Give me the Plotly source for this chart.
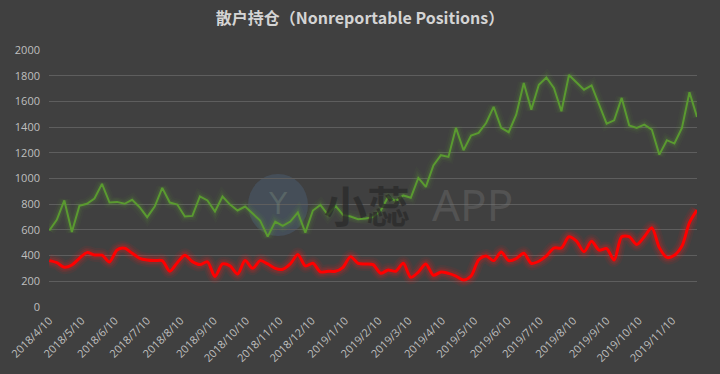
import pandas as pd
import plotly.graph_objects as go

start_date = "2018-04-10"
n_weeks = 87
dates = pd.date_range(start_date, periods=n_weeks, freq="7D")

green_vals = [595, 678, 829, 584, 787, 803, 844, 958, 813, 818,
              803, 834, 777, 699, 782, 927, 813, 797, 704, 709,
              860, 829, 743, 860, 797, 751, 782, 725, 673, 548,
              665, 631, 665, 735, 579, 751, 795, 717, 787, 717,
              704, 683, 688, 699, 750, 858, 824, 868, 850, 1005,
              935, 1101, 1181, 1168, 1394, 1220, 1334, 1355, 1432, 1557,
              1394, 1360, 1497, 1743, 1536, 1730, 1786, 1704, 1523, 1805,
              1748, 1691, 1725, 1575, 1427, 1453, 1627, 1412, 1394, 1419,
              1381, 1186, 1298, 1272, 1394, 1671, 1479]

red_vals = [361, 345, 309, 327, 379, 423, 405, 403, 351, 444,
            457, 418, 379, 366, 361, 361, 278, 345, 403, 353,
            330, 351, 238, 335, 320, 257, 361, 301, 361, 335,
            301, 294, 335, 408, 320, 340, 273, 278, 278, 309,
            392, 340, 335, 330, 262, 288, 278, 340, 231, 272,
            335, 247, 272, 262, 241, 210, 241, 366, 397, 361,
            428, 361, 376, 418, 340, 356, 398, 459, 459, 547,
            513, 430, 511, 443, 454, 366, 547, 547, 487, 547,
            617, 462, 386, 402, 474, 656, 754]

tick_dates = pd.date_range("2018-04-01", "2019-11-01", freq="MS") + pd.Timedelta(days=9)
tick_text = [f"{d.year}/{d.month}/{d.day}" for d in tick_dates]

y_ticks = list(range(0, 2001, 200))

BG = "#404040"
GREEN = "#5a9a30"
RED = "#ff0000"

fig = go.Figure()

# glow layers
for w, a in [(12, 0.05), (8, 0.08), (5, 0.12)]:
    fig.add_trace(go.Scatter(x=dates, y=green_vals, mode="lines",
                             line=dict(color=f"rgba(100,160,55,{a})", width=w),
                             hoverinfo="skip", showlegend=False))
    fig.add_trace(go.Scatter(x=dates, y=red_vals, mode="lines",
                             line=dict(color=f"rgba(255,30,30,{a + 0.02})", width=w + 2,
                                       shape="spline", smoothing=0.8),
                             hoverinfo="skip", showlegend=False))

fig.add_trace(go.Scatter(x=dates, y=green_vals, mode="lines",
                         line=dict(color=GREEN, width=2),
                         name="green", showlegend=False))
fig.add_trace(go.Scatter(x=dates, y=red_vals, mode="lines",
                         line=dict(color=RED, width=3, shape="spline", smoothing=0.8),
                         name="red", showlegend=False))

# watermark
fig.add_shape(type="circle", xref="paper", yref="paper",
              x0=(248 - 49) / 648, x1=(308 - 49) / 648,
              y0=(307 - 236) / 257, y1=(307 - 174) / 257,
              fillcolor="rgba(80,110,140,0.32)", line=dict(width=0), layer="below")
fig.add_annotation(text="Y", xref="paper", yref="paper",
                   x=(278 - 49) / 648, y=(307 - 203) / 257, showarrow=False,
                   font=dict(size=30, color="rgba(140,160,140,0.28)", family="DejaVu Sans"))
fig.add_annotation(text="<b>小蕊</b>", xref="paper", yref="paper",
                   x=(367 - 49) / 648, y=(307 - 204) / 257, showarrow=False,
                   font=dict(size=43, color="rgba(42,42,42,0.75)", family="Noto Sans CJK SC"))
fig.add_annotation(text="APP", xref="paper", yref="paper",
                   x=(472 - 49) / 648, y=(307 - 204) / 257, showarrow=False,
                   font=dict(size=44, color="rgba(120,120,120,0.35)", family="Noto Sans"))

fig.update_layout(
    width=720, height=374,
    paper_bgcolor=BG, plot_bgcolor=BG,
    margin=dict(l=49, r=23, t=50, b=67, autoexpand=False),
    title=dict(text="<b>散户持仓（Nonreportable Positions）</b>", x=0.5, xanchor="center",
               y=0.95, yanchor="middle",
               font=dict(size=16, color="#d4d4d4", family="Noto Sans CJK SC")),
    xaxis=dict(type="date",
               range=[dates[0] - pd.Timedelta(hours=6), dates[-1]],
               tickvals=tick_dates, ticktext=tick_text, tickangle=-45,
               ticklabeloverflow="allow", ticks="outside", ticklen=2, tickcolor=BG,
               showgrid=False, zeroline=False, showline=False, automargin=False,
               tickfont=dict(size=11, color="#bfbfbf", family="Open Sans")),
    yaxis=dict(range=[0, 2000], tickvals=y_ticks, showgrid=True,
               gridcolor="#5e5e5e", gridwidth=1, zeroline=False, showline=False,
               ticklabelstandoff=8, automargin=False,
               tickfont=dict(size=11, color="#bfbfbf", family="Open Sans")),
    font=dict(family="Open Sans"),
)

fig.write_html("out.html", config={"displayModeBar": False},
               post_script="document.body.style.margin='0';document.body.style.background='#404040';")
